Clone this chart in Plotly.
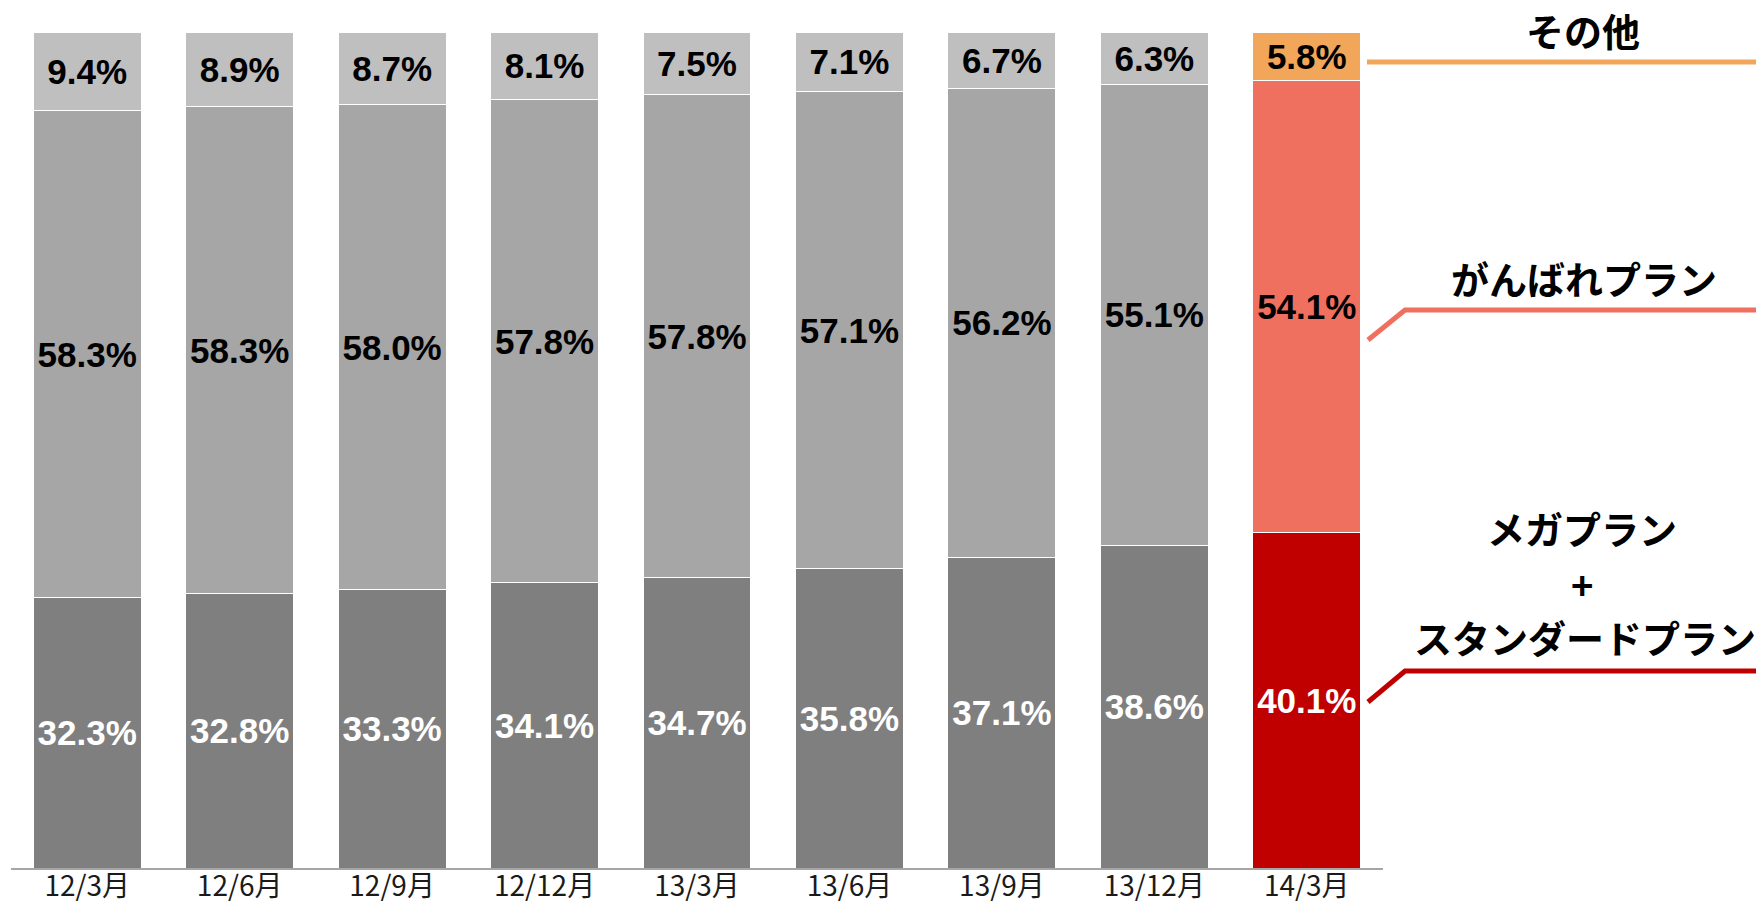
import plotly.graph_objects as go

categories = ["12/3月", "12/6月", "12/9月", "12/12月", "13/3月", "13/6月", "13/9月", "13/12月", "14/3月"]
mega_standard = [32.3, 32.8, 33.3, 34.1, 34.7, 35.8, 37.1, 38.6, 40.1]
ganbare = [58.3, 58.3, 58.0, 57.8, 57.8, 57.1, 56.2, 55.1, 54.1]
others = [9.4, 8.9, 8.7, 8.1, 7.5, 7.1, 6.7, 6.3, 5.8]

series_names = ["メガプラン+スタンダードプラン", "がんばれプラン", "その他"]
gray_colors = ["#7F7F7F", "#A6A6A6", "#BFBFBF"]
hi_colors = ["#C00000", "#F07060", "#F2A65A"]
text_colors = ["white", "black", "black"]

label_font = "Liberation Sans, Arial, sans-serif"
jp_font = "Noto Sans CJK JP, sans-serif"

fig = go.Figure()
n = len(categories)
for vals, name, gc, hc, tc in zip([mega_standard, ganbare, others], series_names, gray_colors, hi_colors, text_colors):
    fig.add_trace(go.Bar(
        x=list(range(n)),
        y=vals,
        name=name,
        marker=dict(color=[gc] * (n - 1) + [hc], line=dict(color="white", width=1)),
        text=[f"{v:.1f}%" for v in vals],
        textposition="inside",
        insidetextanchor="middle",
        constraintext="none",
        textangle=0,
        textfont=dict(family=label_font, size=35, color=tc, weight="bold"),
        hoverinfo="skip",
    ))

fig.update_layout(
    barmode="stack",
    bargap=0.292,
    width=1756,
    height=903,
    margin=dict(l=11, r=373, t=32, b=35, autoexpand=False),
    paper_bgcolor="white",
    plot_bgcolor="white",
    showlegend=False,
    uniformtext=dict(minsize=35, mode="show"),
    xaxis=dict(
        tickmode="array",
        tickvals=list(range(n)),
        ticktext=categories,
        range=[-0.5, n - 0.5],
        showline=True,
        linecolor="#A6A6A6",
        linewidth=2,
        showgrid=False,
        zeroline=False,
        ticks="",
        automargin=False,
        ticklabelstandoff=-8,
        tickfont=dict(family=jp_font, size=28, color="#1a1a1a"),
        fixedrange=True,
    ),
    yaxis=dict(
        range=[0, 100],
        visible=False,
        showgrid=False,
        zeroline=False,
        automargin=False,
        fixedrange=True,
    ),
)

# callout lines (paper coords)
def px(xp):
    return (xp - 11) / 1372

def py(yp):
    return (868 - yp) / 836

line_specs = [
    ("#F2A65A", [(1367, 62), (1760, 62)]),
    ("#F07060", [(1368, 340), (1405, 310), (1760, 310)]),
    ("#C00000", [(1368, 702), (1405, 671), (1760, 671)]),
]
for color, pts in line_specs:
    path = "M " + " L ".join(f"{px(x):.5f},{py(y):.5f}" for x, y in pts)
    fig.add_shape(type="path", path=path, xref="paper", yref="paper",
                  line=dict(color=color, width=5))

labels = [
    ("その他", 1583, 30),
    ("がんばれプラン", 1584, 277),
    ("メガプラン", 1582, 527),
    ("+", 1582, 583),
    ("スタンダードプラン", 1585, 637),
]
for txt, x, y in labels:
    fig.add_annotation(text=txt, x=px(x), y=py(y), xref="paper", yref="paper",
                       showarrow=False, xanchor="center", yanchor="middle",
                       font=dict(family=jp_font, size=38, color="black", weight="bold"))

fig.write_html("out.html", config={"displayModeBar": False},
               post_script="document.body.style.margin='0';document.body.style.padding='0';document.body.style.overflow='hidden';")
